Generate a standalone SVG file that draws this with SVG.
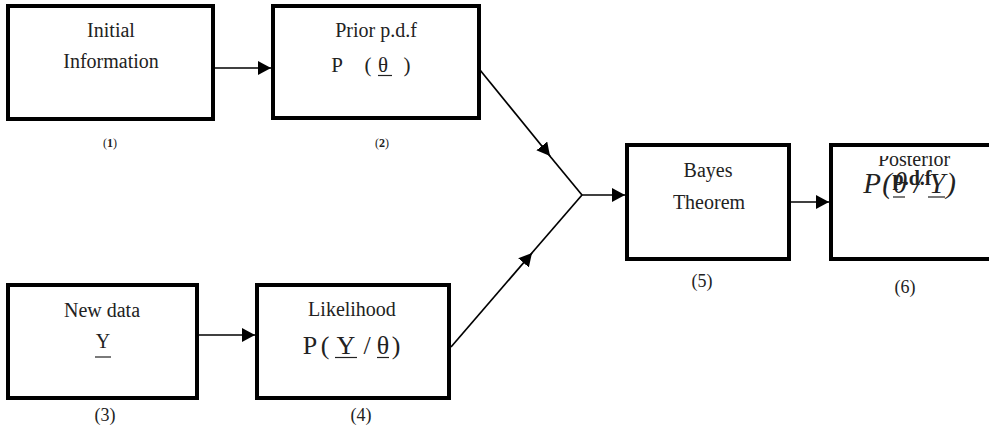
<svg xmlns="http://www.w3.org/2000/svg" width="989" height="438" viewBox="0 0 989 438">
<style>
.box{fill:#fff;stroke:#000;stroke-width:4}
.t{font-family:"Liberation Serif","Times New Roman",serif;font-size:20px;fill:#222;text-anchor:middle}
.m{font-family:"Liberation Serif","Times New Roman",serif;fill:#222;text-anchor:middle}
.n{font-family:"Liberation Serif","Times New Roman",serif;font-size:18px;fill:#222;text-anchor:middle}
.s{font-family:"Liberation Serif","Times New Roman",serif;font-size:12px;fill:#222;text-anchor:middle}
.c{stroke:#000;stroke-width:1.7;fill:none}
.u{stroke:#222;stroke-width:1.2}
</style>
<defs>
<marker id="ah" markerUnits="userSpaceOnUse" markerWidth="14" markerHeight="14" refX="13" refY="7" orient="auto">
<path d="M0,0 L13,7 L0,14 Z" fill="#000"/>
</marker>
<clipPath id="pc"><rect x="833" y="156" width="156" height="100"/></clipPath>
</defs>
<g id="connectors">
<line class="c" x1="215" y1="68" x2="271" y2="68" marker-end="url(#ah)"/>
<line class="c" x1="199" y1="335" x2="255" y2="335" marker-end="url(#ah)"/>
<line class="c" x1="480" y1="70" x2="550" y2="156" marker-end="url(#ah)"/>
<line class="c" x1="549" y1="155" x2="582" y2="195"/>
<line class="c" x1="451" y1="347" x2="532" y2="253" marker-end="url(#ah)"/>
<line class="c" x1="531" y1="254" x2="582" y2="195"/>
<line class="c" x1="581" y1="195" x2="625" y2="195" marker-end="url(#ah)"/>
<line class="c" x1="791" y1="202" x2="829" y2="202" marker-end="url(#ah)"/>
</g>
<g id="n1">
<rect class="box" x="8" y="6" width="205" height="113"/>
<text class="t" x="111" y="37">Initial</text>
<text class="t" x="111" y="68">Information</text>
<text class="s" x="110" y="147">(<tspan font-weight="bold">1</tspan>)</text>
</g>
<g id="n2">
<rect class="box" x="273" y="6" width="206" height="112"/>
<text class="t" x="376" y="37">Prior p.d.f</text>
<text class="m" font-size="21" y="72"><tspan x="337">P</tspan><tspan x="368">(</tspan><tspan x="383">θ</tspan><tspan x="407">)</tspan></text>
<line class="u" x1="378" y1="75.5" x2="392" y2="75.5"/>
<text class="s" x="382" y="147">(<tspan font-weight="bold">2</tspan>)</text>
</g>
<g id="n3">
<rect class="box" x="8" y="285" width="189" height="113"/>
<text class="t" x="102" y="317">New data</text>
<text class="t" x="103" y="348">Y</text>
<line class="u" x1="95" y1="357" x2="111" y2="357"/>
<text class="n" x="105" y="421">(3)</text>
</g>
<g id="n4">
<rect class="box" x="257" y="285" width="192" height="113"/>
<text class="t" x="352" y="316">Likelihood</text>
<text class="m" font-size="26" y="354"><tspan x="310">P</tspan><tspan x="325">(</tspan><tspan x="346">Y</tspan><tspan x="367">/</tspan><tspan x="383">θ</tspan><tspan x="396">)</tspan></text>
<line class="u" x1="335" y1="357.5" x2="357" y2="357.5"/>
<line class="u" x1="377" y1="357.5" x2="389" y2="357.5"/>
<text class="n" x="361" y="421">(4)</text>
</g>
<g id="n5">
<rect class="box" x="627" y="145" width="162" height="114"/>
<text class="t" x="708" y="177">Bayes</text>
<text class="t" x="709" y="209">Theorem</text>
<text class="n" x="702" y="287">(5)</text>
</g>
<g id="n6">
<rect class="box" x="831" y="145" width="162" height="114"/>
<text class="t" x="914" y="166" clip-path="url(#pc)">Posterior</text>
<text class="m" font-size="29" font-style="italic" y="193"><tspan x="872">P</tspan><tspan x="887">(</tspan><tspan x="900">θ</tspan><tspan x="918">/</tspan><tspan x="937">Y</tspan><tspan x="951">)</tspan></text>
<text class="t" font-weight="bold" x="912" y="185">p.d.f</text>
<line class="u" x1="893" y1="197" x2="905" y2="197"/>
<line class="u" x1="928" y1="197" x2="945" y2="197"/>
<text class="n" font-size="20" x="905" y="293">(6)</text>
</g>
</svg>
